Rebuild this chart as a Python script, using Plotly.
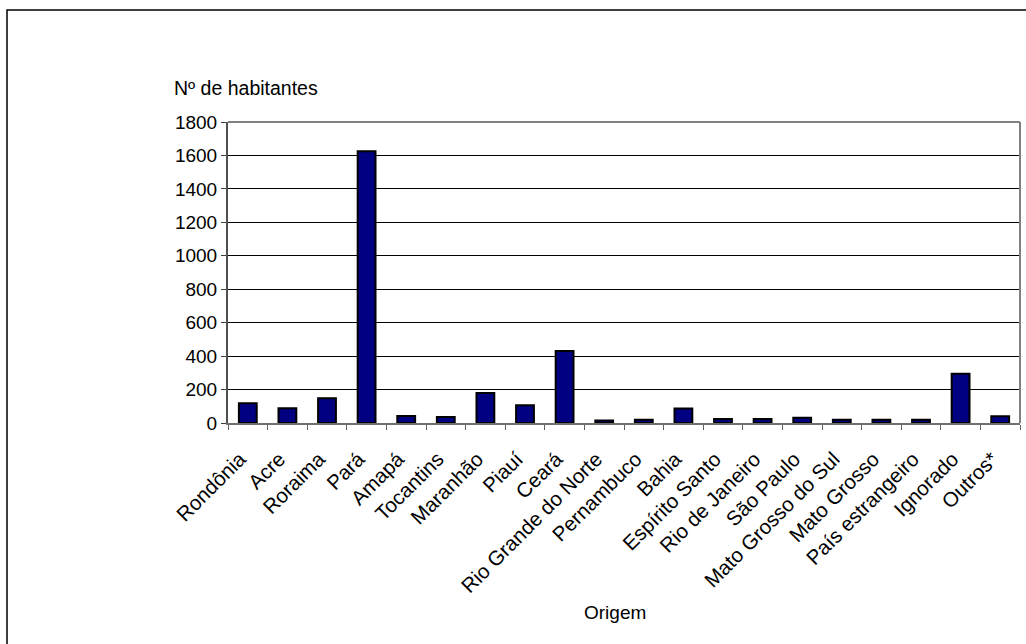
import plotly.graph_objects as go

# Origem dos habitantes por estado / região
origem = [
    "Rondônia", "Acre", "Roraima", "Pará", "Amapá", "Tocantins", "Maranhão",
    "Piauí", "Ceará", "Rio Grande do Norte", "Pernambuco", "Bahia",
    "Espírito Santo", "Rio de Janeiro", "São Paulo", "Mato Grosso do Sul",
    "Mato Grosso", "País estrangeiro", "Ignorado", "Outros*",
]
habitantes = [118, 88, 148, 1625, 42, 36, 179, 106, 430, 15, 20, 86,
              24, 24, 32, 20, 20, 20, 295, 40]
y_ticks = [0, 200, 400, 600, 800, 1000, 1200, 1400, 1600, 1800]

W, H = 1026, 644
L, R, T, B = 228, 1020, 122, 423  # plot area in pixels
pw, ph = R - L, B - T


def px(x):
    return (x - L) / pw


def py(y):
    return (B - y) / ph


FAMILY = "Liberation Sans, Arial, sans-serif"
font = dict(family=FAMILY, size=19, color="black")
xfont = dict(family=FAMILY, size=20.5, color="black")

fig = go.Figure(
    go.Bar(
        x=origem,
        y=habitantes,
        marker=dict(color="#000080", line=dict(color="black", width=2)),
        width=0.45,
    )
)

fig.update_layout(
    width=W,
    height=H,
    margin=dict(l=L, r=W - R, t=T, b=H - B),
    paper_bgcolor="white",
    plot_bgcolor="white",
    font=font,
    showlegend=False,
    bargap=0.55,
    xaxis=dict(
        type="category",
        tickangle=-45,
        tickson="boundaries",
        ticks="outside",
        ticklen=5,
        tickcolor="#606060",
        tickwidth=1,
        ticklabelstandoff=14,
        ticklabelshift=-8,
        showgrid=False,
        showline=True,
        linecolor="#707070",
        linewidth=2,
        tickfont=xfont,
        automargin=False,
    ),
    yaxis=dict(
        range=[0, 1800],
        tickvals=y_ticks,
        ticks="outside",
        ticklen=5,
        tickcolor="#404040",
        showgrid=True,
        gridcolor="black",
        gridwidth=1,
        showline=True,
        linecolor="#505050",
        linewidth=2,
        zeroline=False,
        tickfont=font,
        automargin=False,
    ),
    shapes=[
        # plot area border (top and right)
        dict(type="line", xref="paper", yref="paper", x0=0, x1=1, y0=1, y1=1,
             line=dict(color="#808080", width=2)),
        dict(type="line", xref="paper", yref="paper", x0=1, x1=1, y0=0, y1=1,
             line=dict(color="#808080", width=2)),
        # chart frame
        dict(type="rect", xref="paper", yref="paper",
             x0=px(7), x1=px(1040), y0=py(10), y1=py(660),
             line=dict(color="black", width=1.5), fillcolor="rgba(0,0,0,0)"),
    ],
    annotations=[
        dict(text="Nº de habitantes", xref="paper", yref="paper",
             x=px(172), y=py(88), xanchor="left", yanchor="middle",
             showarrow=False, font=dict(family=FAMILY, size=19.5, color="black")),
        dict(text="Origem", xref="paper", yref="paper",
             x=px(615), y=py(612), xanchor="center", yanchor="middle",
             showarrow=False, font=font),
    ],
)

fig.write_html("out.html")
